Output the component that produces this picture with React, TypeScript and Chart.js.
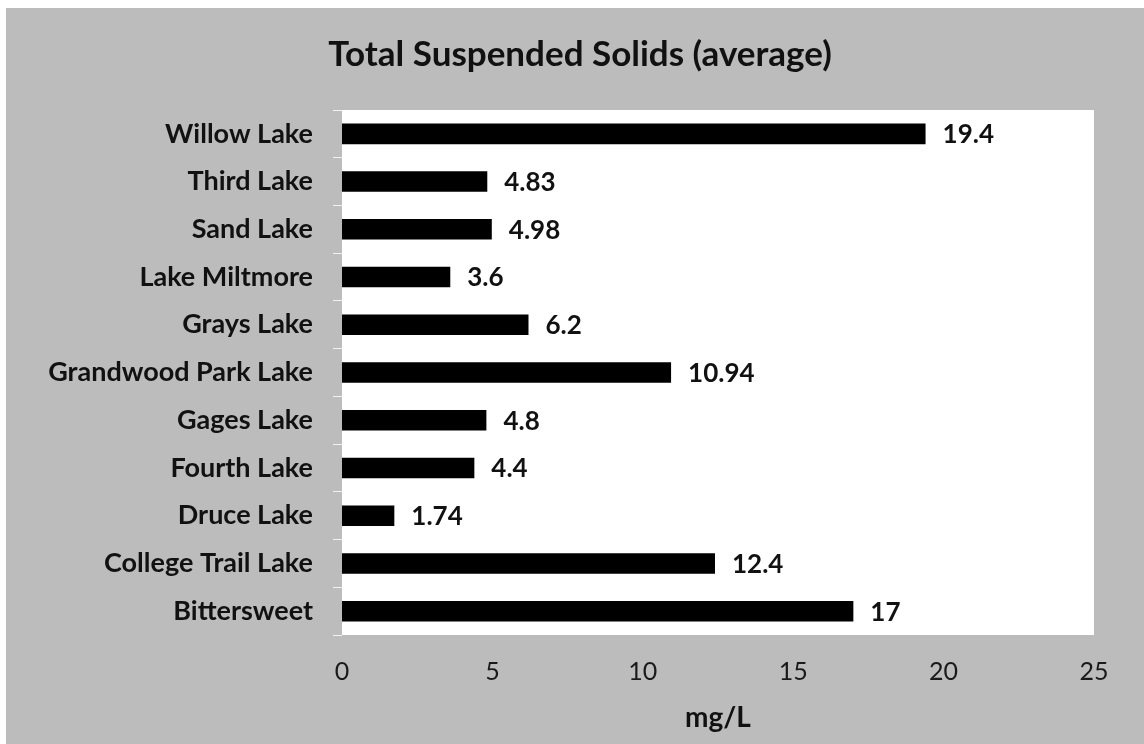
import React, { useEffect, useRef } from "react";
import { Chart, registerables } from "chart.js";

Chart.register(...registerables);

const lakes = [
  "Willow Lake",
  "Third Lake",
  "Sand Lake",
  "Lake Miltmore",
  "Grays Lake",
  "Grandwood Park Lake",
  "Gages Lake",
  "Fourth Lake",
  "Druce Lake",
  "College Trail Lake",
  "Bittersweet",
];
const tssValues = [19.4, 4.83, 4.98, 3.6, 6.2, 10.94, 4.8, 4.4, 1.74, 12.4, 17];
const valueLabels = ["19.4", "4.83", "4.98", "3.6", "6.2", "10.94", "4.8", "4.4", "1.74", "12.4", "17"];
const chartTitle = "Total Suspended Solids (average)";
const axisTitle = "mg/L";

const FONT = "Lato, 'Open Sans', sans-serif";
const BG = "#bcbcbc";

export default function App() {
  const ref = useRef<HTMLCanvasElement | null>(null);

  useEffect(() => {
    document.body.style.margin = "0";
    const canvas = ref.current;
    if (!canvas) return;

    const decor = {
      id: "decor",
      beforeDraw(chart: any) {
        const { ctx, width, height, chartArea } = chart;
        ctx.save();
        ctx.fillStyle = "#ffffff";
        ctx.fillRect(0, 0, width, height);
        ctx.fillStyle = BG;
        ctx.fillRect(6, 8, width - 6, height - 8);
        ctx.fillStyle = "#ffffff";
        ctx.fillRect(chartArea.left, chartArea.top, chartArea.right - chartArea.left, chartArea.bottom - chartArea.top);
        ctx.restore();
      },
      afterDraw(chart: any) {
        const { ctx, chartArea } = chart;
        ctx.save();
        ctx.fillStyle = "#111111";
        ctx.textAlign = "center";
        ctx.textBaseline = "middle";
        ctx.font = `bold 35px ${FONT}`;
        ctx.fillText(chartTitle, 580, 55);
        ctx.font = `bold 28px ${FONT}`;
        ctx.fillText(axisTitle, (chartArea.left + chartArea.right) / 2, 718);
        const meta = chart.getDatasetMeta(0);
        ctx.textAlign = "left";
        ctx.font = `bold 26px ${FONT}`;
        meta.data.forEach((bar: any, i: number) => {
          ctx.fillText(valueLabels[i], bar.x + 17, bar.y + 1);
        });
        ctx.restore();
      },
    };

    const chart = new Chart(canvas, {
      type: "bar",
      data: {
        labels: lakes,
        datasets: [
          {
            data: tssValues,
            backgroundColor: "#000000",
            borderWidth: 0,
            barPercentage: 0.43,
            categoryPercentage: 1,
          },
        ],
      },
      options: {
        indexAxis: "y",
        animation: false,
        responsive: false,
        maintainAspectRatio: false,
        layout: { padding: { top: 110, right: 50, bottom: 0, left: 0 } },
        plugins: {
          legend: { display: false },
          title: { display: false },
          tooltip: { enabled: false },
        },
        scales: {
          x: {
            min: 0,
            max: 25,
            ticks: {
              stepSize: 5,
              color: "#1a1a1a",
              padding: 22,
              font: { family: FONT, size: 25 },
            },
            grid: { display: false, drawTicks: false },
            border: { display: false },
            afterFit: (scale: any) => {
              scale.height = 109;
            },
          },
          y: {
            ticks: {
              color: "#111111",
              padding: 20,
              font: { family: FONT, size: 27, weight: "bold" },
            },
            grid: {
              display: true,
              drawOnChartArea: false,
              drawTicks: true,
              tickLength: 9,
              color: "#f2f2f2",
            },
            border: { display: false },
            afterFit: (scale: any) => {
              scale.width = 342;
            },
          },
        },
      },
      plugins: [decor],
    });

    return () => chart.destroy();
  }, []);

  return <canvas ref={ref} width={1144} height={744} style={{ display: "block" }} />;
}
